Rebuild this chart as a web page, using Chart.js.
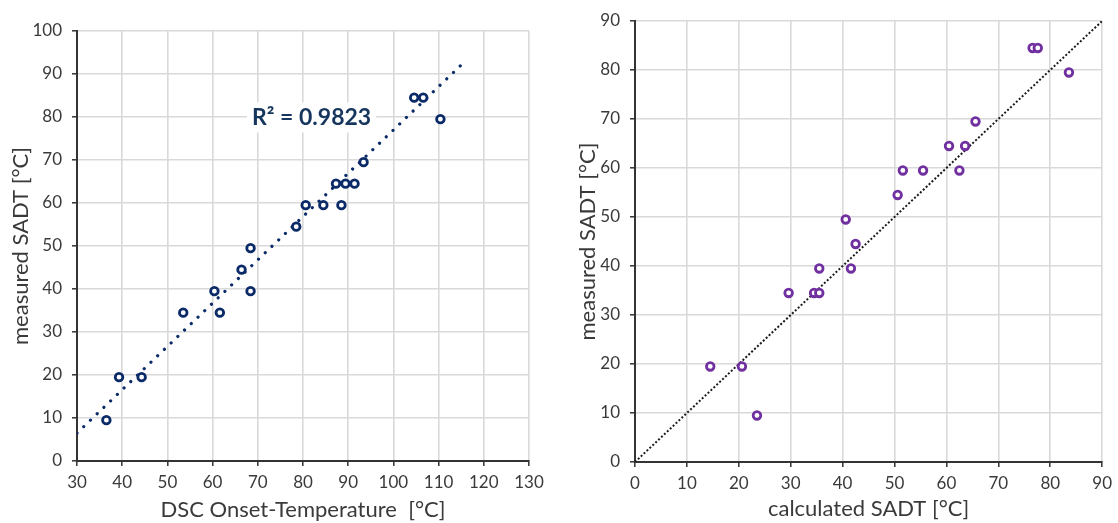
<!DOCTYPE html>
<html>
<head>
<meta charset="utf-8">
<script src="https://cdn.jsdelivr.net/npm/chart.js@4.4.1/dist/chart.umd.min.js"></script>
<style>
  html, body { margin: 0; padding: 0; background: #ffffff; }
  #wrap { position: relative; width: 1118px; height: 523px; }
  canvas { position: absolute; top: 0; }
  #c1 { left: 0; }
  #c2 { left: 559px; }
</style>
</head>
<body>
<div id="wrap">
  <canvas id="c1" width="559" height="523"></canvas>
  <canvas id="c2" width="559" height="523"></canvas>
</div>
<script>
// ---- Data ----
const onsetTemp = [36.5, 39.3, 44.3, 53.5, 60.4, 61.6, 66.4, 68.4, 68.4, 78.5, 80.6, 84.5, 88.5, 87.3, 89.4, 91.4, 93.4, 104.6, 106.6, 110.4];
const measuredLeft = [9.5, 19.5, 19.5, 34.5, 39.5, 34.5, 44.5, 49.5, 39.5, 54.5, 59.5, 59.5, 59.5, 64.5, 64.5, 64.5, 69.5, 84.5, 84.5, 79.5];
const trendX = [30, 115.4];
const trendY = [6.5, 92.5];
const r2Label = 'R\u00B2 = 0.9823';

const calculatedSADT = [14.5, 20.6, 23.5, 29.6, 34.5, 35.5, 35.5, 41.6, 40.6, 42.5, 50.6, 51.6, 55.5, 62.5, 60.5, 63.6, 65.6, 76.6, 77.6, 83.6];
const measuredRight = [19.5, 19.5, 9.5, 34.5, 34.5, 34.5, 39.5, 39.5, 49.5, 44.5, 54.5, 59.5, 59.5, 59.5, 64.5, 64.5, 69.5, 84.5, 84.5, 79.5];
const diagX = [0, 90];
const diagY = [0, 90];

const leftXTicks = { min: 30, max: 130, step: 10 };
const leftYTicks = { min: 0, max: 100, step: 10 };
const rightXTicks = { min: 0, max: 90, step: 10 };
const rightYTicks = { min: 0, max: 90, step: 10 };

// ---- Styles ----
const FONT = 'Lato, "Open Sans", sans-serif';
const TXT = '#3a3a3a';
const GRID = '#d9d9d9';
const AXIS = '#333333';
const NAVY = '#0b2a68';
const PURPLE = '#7030a0';

function pts(xs, ys) { return xs.map((x, i) => ({ x: x, y: ys[i] })); }

function axis(t, title, fixedSize, titlePad, isX) {
  return {
    type: 'linear',
    min: t.min, max: t.max,
    ticks: { stepSize: t.step, color: TXT, font: { family: FONT, size: 17 }, padding: isX ? 6 : 10 },
    grid: { color: GRID, lineWidth: 1.6, tickColor: AXIS, tickLength: 5, tickWidth: 1.5 },
    border: { color: AXIS, width: 2 },
    title: { display: true, text: title, color: TXT, font: { family: FONT, size: 22 }, padding: titlePad },
    afterFit: (s) => { if (isX) s.height = fixedSize; else s.width = fixedSize; }
  };
}

const r2Plugin = {
  id: 'r2label',
  afterDatasetsDraw(chart, args, opts) {
    if (!opts || !opts.text) return;
    const { ctx, scales } = chart;
    const px = scales.x.getPixelForValue(opts.x);
    const py = scales.y.getPixelForValue(opts.y);
    ctx.save();
    ctx.font = 'bold 23px ' + FONT;
    const w = ctx.measureText(opts.text).width;
    ctx.fillStyle = '#ffffff';
    ctx.fillRect(px - w / 2 - 5, py - 15, w + 10, 30);
    ctx.fillStyle = opts.color;
    ctx.textAlign = 'center';
    ctx.textBaseline = 'middle';
    ctx.fillText(opts.text, px, py);
    ctx.restore();
  }
};

new Chart(document.getElementById('c1'), {
  type: 'scatter',
  data: {
    datasets: [
      {
        data: pts(onsetTemp, measuredLeft),
        pointStyle: 'circle', pointRadius: 3.8, pointBorderWidth: 2.8,
        borderColor: NAVY, backgroundColor: '#ffffff', order: 1
      },
      {
        type: 'line',
        data: pts(trendX, trendY),
        borderColor: NAVY, borderWidth: 3.2, borderDash: [0.01, 9.3], borderCapStyle: 'round',
        pointRadius: 0, fill: false, order: 2
      }
    ]
  },
  options: {
    responsive: false, animation: false, devicePixelRatio: 1,
    layout: { padding: { left: 0, right: 30, top: 31, bottom: 0 } },
    plugins: { legend: { display: false }, tooltip: { enabled: false },
      r2label: { text: r2Label, x: 81.9, y: 79.9, color: '#17365d' } },
    scales: {
      x: axis(leftXTicks, 'DSC Onset-Temperature  [\u00B0C]', 62, { top: 0, bottom: 0 }, true),
      y: axis(leftYTicks, 'measured SADT [\u00B0C]', 77, { top: 8, bottom: 0 }, false)
    }
  },
  plugins: [r2Plugin]
});

new Chart(document.getElementById('c2'), {
  type: 'scatter',
  data: {
    datasets: [
      {
        data: pts(calculatedSADT, measuredRight),
        pointStyle: 'circle', pointRadius: 3.8, pointBorderWidth: 2.8,
        borderColor: PURPLE, backgroundColor: '#ffffff', order: 1
      },
      {
        type: 'line',
        data: pts(diagX, diagY),
        borderColor: '#1a1a1a', borderWidth: 2, borderDash: [2, 2],
        pointRadius: 0, fill: false, order: 2
      }
    ]
  },
  options: {
    responsive: false, animation: false, devicePixelRatio: 1,
    layout: { padding: { left: 0, right: 12, top: 21, bottom: 0 } },
    plugins: { legend: { display: false }, tooltip: { enabled: false } },
    scales: {
      x: axis(rightXTicks, 'calculated SADT [\u00B0C]', 61, { top: 0, bottom: 1 }, true),
      y: axis(rightYTicks, 'measured SADT [\u00B0C]', 76, { top: 16, bottom: 0 }, false)
    }
  }
});
</script>
</body>
</html>
